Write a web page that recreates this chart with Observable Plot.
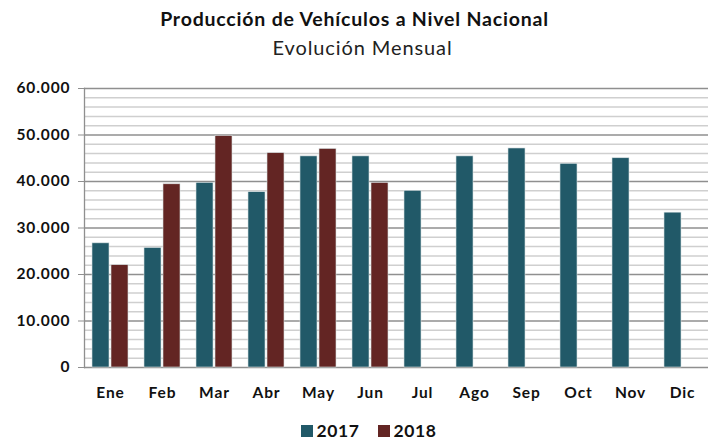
<!DOCTYPE html>
<html>
<head>
<meta charset="utf-8">
<script src="https://cdn.jsdelivr.net/npm/d3@7"></script>
<script src="https://cdn.jsdelivr.net/npm/@observablehq/plot@0.6"></script>
<style>
  body { margin: 0; background: #fff; font-family: Lato, "Open Sans", sans-serif; }
  #wrap { width: 709px; height: 441px; position: relative; overflow: hidden; }
  #title { position: absolute; top: 7px; width: 709px; text-align: center; font-weight: bold; font-size: 19.5px; letter-spacing: 0.8px; color: #111; }
  #subtitle { position: absolute; top: 35px; width: 709px; text-align: center; font-size: 20px; letter-spacing: 0.9px; color: #222; padding-left: 16px; box-sizing: border-box; }
  #chart { position: absolute; top: 72px; left: 0; }
  #chart svg text { letter-spacing: 0.9px; }
  #legend { position: absolute; top: 420px; width: 709px; text-align: center; font-weight: bold; font-size: 17.5px; letter-spacing: 0.6px; color: #111; padding-left: 28px; box-sizing: border-box; }
  .sw { display: inline-block; width: 12px; height: 12px; margin-right: 4px; vertical-align: 0px; }
  .item { margin: 0 9px; }
</style>
</head>
<body>
<div id="wrap">
  <div id="title"></div>
  <div id="subtitle"></div>
  <div id="chart"></div>
  <div id="legend"></div>
</div>
<script>
const titleText = "Producción de Vehículos a Nivel Nacional";
const subtitleText = "Evolución Mensual";
const months = ["Ene","Feb","Mar","Abr","May","Jun","Jul","Ago","Sep","Oct","Nov","Dic"];
const years = ["2017","2018"];
const values2017 = [26700, 25700, 39700, 37700, 45400, 45400, 38000, 45400, 47100, 43800, 45000, 33300];
const values2018 = [22000, 39400, 49800, 46100, 47000, 39700];
const colors = ["#215968", "#632523"];
const majorTicks = [0, 10000, 20000, 30000, 40000, 50000, 60000];
const minorTicks = [2000,4000,6000,8000,12000,14000,16000,18000,22000,24000,26000,28000,32000,34000,36000,38000,42000,44000,46000,48000,52000,54000,56000,58000];

document.getElementById("title").textContent = titleText;
document.getElementById("subtitle").textContent = subtitleText;

const data = [];
values2017.forEach((v, i) => data.push({month: months[i], year: "2017", value: v}));
values2018.forEach((v, i) => data.push({month: months[i], year: "2018", value: v}));

const fmt = d3.formatLocale({decimal: ",", thousands: ".", grouping: [3]}).format(",");

const chart = Plot.plot({
  width: 709,
  height: 335,
  marginLeft: 83,
  marginRight: 0,
  marginTop: 16,
  marginBottom: 40,
  style: {fontFamily: "Lato, sans-serif", background: "transparent"},
  fx: {domain: months, padding: 0, label: null},
  x: {domain: years, paddingInner: 0.1, paddingOuter: 0.36, axis: null},
  y: {domain: [0, 60000], axis: null},
  color: {domain: years, range: colors},
  marks: [
    Plot.ruleY(minorTicks, {stroke: "#cfcfcf", strokeWidth: 1.5}),
    Plot.ruleY(majorTicks, {stroke: "#8f8f8f", strokeWidth: 1.3}),
    Plot.barY(data, {fx: "month", x: "year", y: "value", fill: "year", stroke: "#d8e0e2", strokeWidth: 0.6}),
    Plot.frame({anchor: "left", stroke: "#8f8f8f", strokeWidth: 1.3, facetAnchor: "left"}),
    Plot.axisY({ticks: majorTicks, tickFormat: fmt, tickSize: 6, tickPadding: 8, stroke: "#8f8f8f", fill: "#111", fontWeight: "bold", fontSize: 15.5, label: null}),
    Plot.axisFx({anchor: "bottom", tickSize: 0, tickPadding: 19, fontWeight: "bold", fontSize: 15.5, fill: "#111", label: null})
  ]
});
document.getElementById("chart").appendChild(chart);

const legend = document.getElementById("legend");
years.forEach((y, i) => {
  const span = document.createElement("span");
  span.className = "item";
  const sw = document.createElement("span");
  sw.className = "sw";
  sw.style.background = colors[i];
  span.appendChild(sw);
  span.appendChild(document.createTextNode(y));
  legend.appendChild(span);
});
</script>
</body>
</html>
